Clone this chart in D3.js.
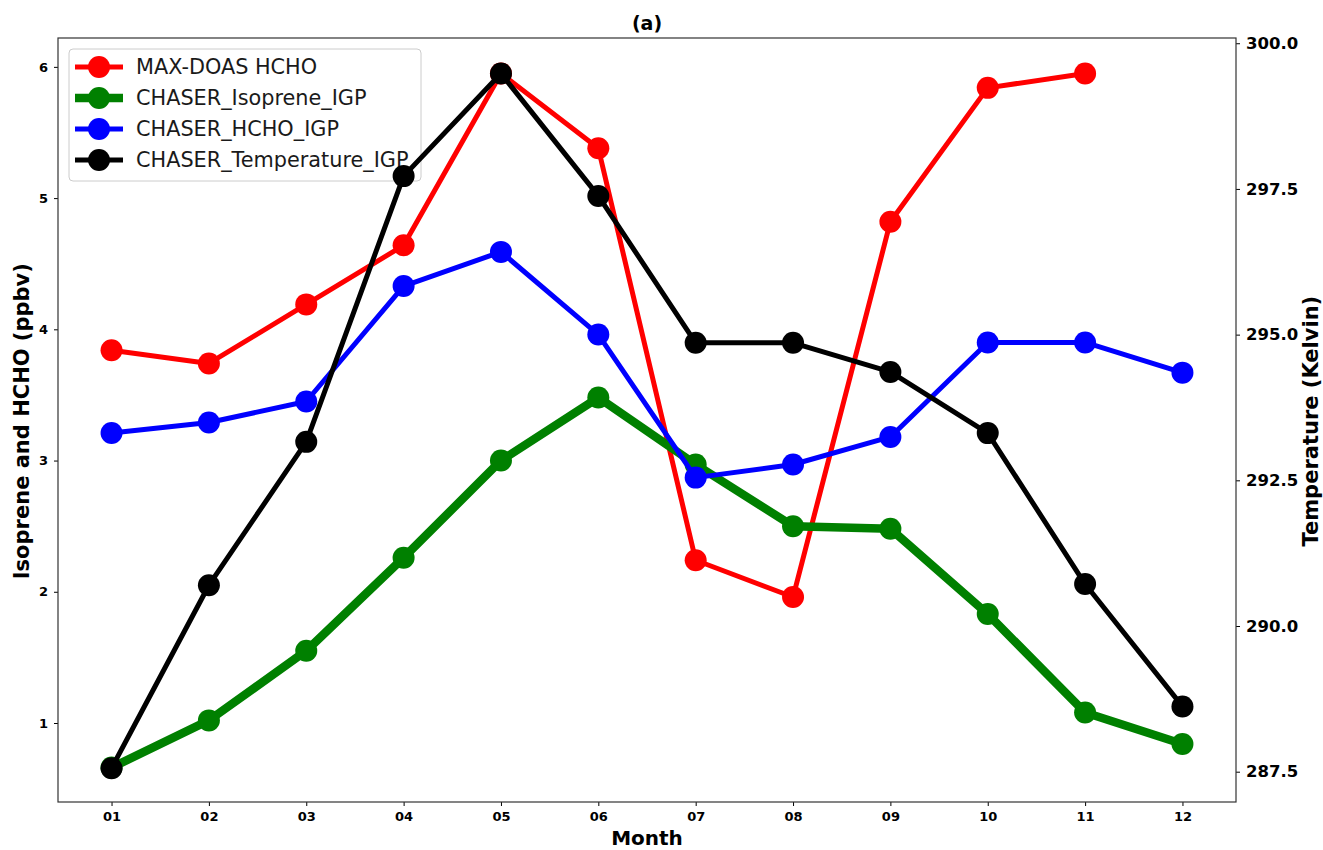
<!DOCTYPE html>
<html>
<head>
<meta charset="utf-8">
<script src="https://cdn.jsdelivr.net/npm/d3@7"></script>
<style>
  body { margin: 0; background: #fff; }
  svg text { font-family: "DejaVu Sans", sans-serif; }
</style>
</head>
<body>
<div id="chart"></div>
<script>
// Monthly values
const months = ["01", "02", "03", "04", "05", "06", "07", "08", "09", "10", "11", "12"];
const maxdoasHcho = [3.84, 3.74, 4.19, 4.64, 5.95, 5.38, 2.24, 1.96, 4.82, 5.84, 5.95, null];
const chaserIsoprene = [0.66, 1.02, 1.55, 2.26, 3.00, 3.48, 2.97, 2.50, 2.48, 1.83, 1.08, 0.84];
const chaserHcho = [3.21, 3.29, 3.45, 4.33, 4.59, 3.96, 2.87, 2.97, 3.18, 3.90, 3.90, 3.67];
const chaserTemp = [287.56, 290.70, 293.16, 297.72, 299.48, 297.38, 294.86, 294.86, 294.36, 293.31, 290.72, 288.62];
const leftTicks = [1, 2, 3, 4, 5, 6];
const rightTicks = [287.5, 290.0, 292.5, 295.0, 297.5, 300.0];

const width = 1323, height = 850;
const margin = { top: 38, right: 87, bottom: 48, left: 58 };
const iw = width - margin.left - margin.right;
const ih = height - margin.top - margin.bottom;

const svg = d3.select("#chart").append("svg")
  .attr("width", width)
  .attr("height", height);

const g = svg.append("g").attr("transform", `translate(${margin.left},${margin.top})`);

const x = d3.scaleLinear().domain([-0.55, 11.55]).range([0, iw]);
const yL = d3.scaleLinear().domain([0.398, 6.22]).range([ih, 0]);
const yR = d3.scaleLinear().domain([286.98, 300.09]).range([ih, 0]);

// Axes
const xAxis = g.append("g")
  .attr("transform", `translate(0,${ih})`)
  .call(d3.axisBottom(x).tickValues(d3.range(12)).tickFormat(i => months[i]).tickSize(4).tickPadding(6));
const lAxis = g.append("g")
  .call(d3.axisLeft(yL).tickValues(leftTicks).tickFormat(d3.format("d")).tickSize(4).tickPadding(6));
const rAxis = g.append("g")
  .attr("transform", `translate(${iw},0)`)
  .call(d3.axisRight(yR).tickValues(rightTicks).tickFormat(d3.format(".1f")).tickSize(4).tickPadding(6));

[xAxis, lAxis].forEach(a => a.selectAll("text").style("font-size", "13px").style("font-weight", "bold").attr("fill", "#000"));
rAxis.selectAll("text").style("font-size", "16.5px").style("font-weight", "bold").attr("fill", "#000");
[xAxis, lAxis, rAxis].forEach(a => {
  a.select(".domain").remove();
  a.selectAll(".tick line").attr("stroke", "#000").attr("stroke-width", 1);
});

// Frame
g.append("rect")
  .attr("width", iw).attr("height", ih)
  .attr("fill", "none").attr("stroke", "#333").attr("stroke-width", 1.2);

// Labels
svg.append("text")
  .attr("x", margin.left + iw / 2).attr("y", 30)
  .attr("text-anchor", "middle")
  .style("font-size", "19px").style("font-weight", "bold")
  .text("(a)");
svg.append("text")
  .attr("x", margin.left + iw / 2).attr("y", 845)
  .attr("text-anchor", "middle")
  .style("font-size", "20px").style("font-weight", "bold")
  .text("Month");
svg.append("text")
  .attr("transform", `translate(29,${margin.top + yL(3.3)}) rotate(-90)`)
  .attr("text-anchor", "middle")
  .style("font-size", "21px").style("font-weight", "bold")
  .text("Isoprene and HCHO (ppbv)");
svg.append("text")
  .attr("transform", `translate(1318,${margin.top + yL(3.3)}) rotate(-90)`)
  .attr("text-anchor", "middle")
  .style("font-size", "21px").style("font-weight", "bold")
  .text("Temperature (Kelvin)");

const series = [
  { name: "MAX-DOAS HCHO", values: maxdoasHcho, color: "red", width: 5, y: yL },
  { name: "CHASER_Isoprene_IGP", values: chaserIsoprene, color: "green", width: 8.5, y: yL },
  { name: "CHASER_HCHO_IGP", values: chaserHcho, color: "blue", width: 5, y: yL },
  { name: "CHASER_Temperature_IGP", values: chaserTemp, color: "black", width: 5, y: yR }
];

function drawSeries(parent, s) {
  const pts = s.values.map((v, i) => ({ i, v })).filter(d => d.v != null);
  const line = d3.line().x(d => x(d.i)).y(d => s.y(d.v));
  parent.append("path")
    .datum(pts)
    .attr("d", line)
    .attr("fill", "none")
    .attr("stroke", s.color)
    .attr("stroke-width", s.width)
    .attr("stroke-linejoin", "round");
  parent.append("g").selectAll("circle")
    .data(pts)
    .join("circle")
    .attr("cx", d => x(d.i))
    .attr("cy", d => s.y(d.v))
    .attr("r", 11)
    .attr("fill", s.color);
}

// Left-axis series first, then legend, then twin-axis series on top
series.slice(0, 3).forEach(s => drawSeries(g, s));

const legend = svg.append("g").attr("transform", "translate(69,49)");
legend.append("rect")
  .attr("width", 352).attr("height", 132).attr("rx", 4)
  .attr("fill", "rgba(255,255,255,0.8)").attr("stroke", "#ccc");
series.forEach((s, k) => {
  const row = legend.append("g").attr("transform", `translate(0,${18 + k * 31})`);
  row.append("line")
    .attr("x1", 6).attr("x2", 54)
    .attr("stroke", s.color).attr("stroke-width", s.width);
  row.append("circle").attr("cx", 30).attr("r", 11).attr("fill", s.color);
  row.append("text")
    .attr("x", 67).attr("dy", "0.35em")
    .style("font-size", "20.8px")
    .attr("fill", "#1a1a1a")
    .text(s.name);
});

// twin axis layer drawn above the legend
const g2 = svg.append("g").attr("transform", `translate(${margin.left},${margin.top})`);
drawSeries(g2, series[3]);
</script>
</body>
</html>
